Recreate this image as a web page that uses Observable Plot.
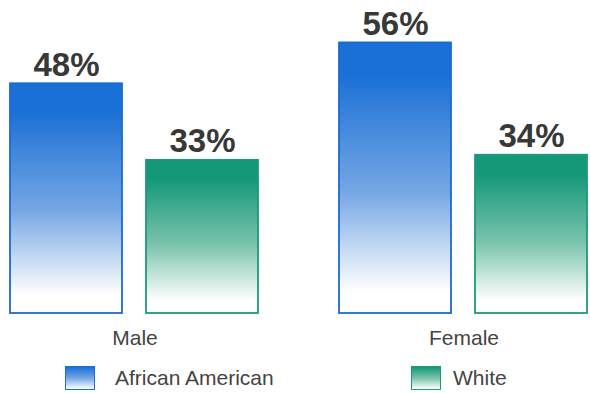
<!DOCTYPE html>
<html>
<head>
<meta charset="utf-8">
<script src="https://cdn.jsdelivr.net/npm/d3@7"></script>
<script src="https://cdn.jsdelivr.net/npm/@observablehq/plot@0.6"></script>
<style>
  html, body { margin: 0; padding: 0; background: #fff; overflow: hidden; }
  #wrap { position: relative; width: 590px; height: 393px; overflow: hidden; font-family: "Liberation Sans", Arial, sans-serif; }
  .sw { width: 30px; height: 24px; box-sizing: border-box; border: 1.5px solid; }
  .lt { font-size: 21px; color: #444; line-height: 24px; position: absolute; white-space: nowrap; }
</style>
</head>
<body>
<div id="wrap"></div>
<script>
const sexes = ["Male", "Female"];
const races = ["African American", "White"];
const africanAmerican = [48, 56];
const white = [33, 34];

const data = [];
sexes.forEach((s, i) => {
  data.push({sex: s, race: races[0], value: africanAmerican[i]});
  data.push({sex: s, race: races[1], value: white[i]});
});

const colors = {
  "African American": {top: "#1a70d6", mid: "#75a6e4", stroke: "#1a6bd2", id: "gradAA"},
  "White": {top: "#149878", mid: "#79c3ab", stroke: "#1c9a7a", id: "gradW"}
};

const marks = [];
races.forEach(r => {
  const d = data.filter(x => x.race === r);
  marks.push(Plot.barY(d, {
    fx: "sex", x: "race", y: "value",
    fill: `url(#${colors[r].id})`,
    stroke: colors[r].stroke, strokeWidth: 1.8
  }));
});
marks.push(Plot.text(data, {
  fx: "sex", x: "race", y: "value",
  text: d => `${d.value}%`,
  lineAnchor: "bottom", dy: -8,
  fontSize: 33, fontWeight: "bold", fill: "#383838",
  fontFamily: "Liberation Sans, Arial, sans-serif"
}));
marks.push(Plot.axisFx({anchor: "bottom", tickSize: 0, tickPadding: 17, fontSize: 21, fill: "#444", label: null,
  fontFamily: "Liberation Sans, Arial, sans-serif"}));

const plot = Plot.plot({
  width: 590,
  height: 355,
  marginLeft: 9,
  marginRight: 1,
  marginTop: 22,
  marginBottom: 42,
  style: {fontFamily: "Liberation Sans, Arial, sans-serif", background: "white", overflow: "visible"},
  fx: {domain: sexes, paddingInner: 0.2424, paddingOuter: 0, label: null},
  x: {domain: races, paddingInner: 0.175, paddingOuter: 0, axis: null},
  y: {domain: [3, 60], clamp: true, axis: null},
  marks
});

// gradient defs
const svg = d3.select(plot);
const defs = svg.insert("defs", ":first-child");
races.forEach(r => {
  const c = colors[r];
  const g = defs.append("linearGradient").attr("id", c.id).attr("x1", 0).attr("y1", 0).attr("x2", 0).attr("y2", 1);
  g.append("stop").attr("offset", "0%").attr("stop-color", c.top);
  g.append("stop").attr("offset", "12%").attr("stop-color", c.top);
  g.append("stop").attr("offset", "55%").attr("stop-color", c.mid);
  g.append("stop").attr("offset", "92%").attr("stop-color", "#ffffff");
  g.append("stop").attr("offset", "100%").attr("stop-color", "#ffffff");
});

const wrap = document.getElementById("wrap");
wrap.appendChild(plot);

// legend
const legendItems = [
  {race: races[0], sx: 65, tx: 115},
  {race: races[1], sx: 411, tx: 453}
];
legendItems.forEach(it => {
  const c = colors[it.race];
  const sw = document.createElement("div");
  sw.className = "sw";
  sw.style.position = "absolute";
  sw.style.left = it.sx + "px";
  sw.style.top = "366px";
  sw.style.borderColor = c.stroke;
  sw.style.background = `linear-gradient(to bottom, ${c.top} 0%, ${c.mid} 50%, #ffffff 100%)`;
  wrap.appendChild(sw);
  const t = document.createElement("div");
  t.className = "lt";
  t.style.left = it.tx + "px";
  t.style.top = "366px";
  t.textContent = it.race;
  wrap.appendChild(t);
});
</script>
</body>
</html>
